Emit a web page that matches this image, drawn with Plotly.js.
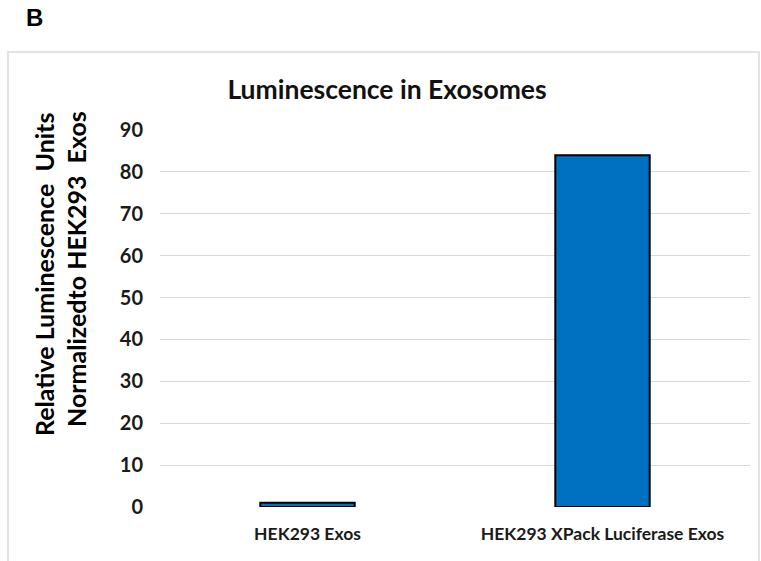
<!DOCTYPE html>
<html>
<head>
<meta charset="utf-8">
<script src="https://cdn.plot.ly/plotly-3.0.1.min.js"></script>
<style>html,body{margin:0;padding:0;background:#fff;}#chart{width:761px;height:561px;}</style>
</head>
<body>
<div id="chart"></div>
<script>
const categories = ["HEK293 Exos", "HEK293 XPack Luciferase Exos"];
const values = [1, 84];
const yTickValues = [0, 10, 20, 30, 40, 50, 60, 70, 80, 90];
const chartTitle = "Luminescence in Exosomes";
const yTitleLine1 = "Relative Luminescence  Units";
const yTitleLine2 = "Normalizedto HEK293  Exos";
const panelLabel = "B";

const FONT = "Lato, 'Open Sans', sans-serif";

const trace = {
  type: "bar",
  x: categories,
  y: values,
  marker: {color: "#0070C0", line: {color: "#000000", width: 2}},
  hoverinfo: "skip"
};

const layout = {
  width: 761, height: 561,
  margin: {l: 160, r: 11, t: 130, b: 54},
  paper_bgcolor: "#ffffff", plot_bgcolor: "#ffffff",
  showlegend: false,
  bargap: 0.68,
  font: {family: FONT, color: "#1a1a1a"},
  title: {
    text: "<b>" + chartTitle + "</b>",
    font: {family: FONT, size: 26.5, color: "#111111"},
    x: 387/761, xref: "container", xanchor: "center",
    y: 1 - 90/561, yref: "container", yanchor: "middle"
  },
  xaxis: {
    type: "category",
    showgrid: false, zeroline: false, showline: false,
    ticks: "",
    tickfont: {family: FONT, size: 17.5, color: "#1a1a1a", weight: "bold"},
    ticklabelstandoff: 14
  },
  yaxis: {
    range: [0, 90],
    tickvals: yTickValues,
    showgrid: true, gridcolor: "#d9d9d9", gridwidth: 1,
    zeroline: false, showline: false,
    ticks: "",
    tickfont: {family: FONT, size: 20, color: "#1a1a1a", weight: "bold"},
    ticklabelstandoff: 16
  },
  shapes: [{
    type: "rect", xref: "paper", yref: "paper",
    x0: (8-160)/590, x1: (759-160)/590,
    y0: (507-570)/377, y1: (507-52)/377,
    line: {color: "#d9d9d9", width: 1.5},
    fillcolor: "rgba(0,0,0,0)", layer: "below"
  }],
  annotations: [
    {
      text: "<b>" + panelLabel + "</b>",
      xref: "paper", yref: "paper",
      x: (34-160)/590, y: (507-18)/377,
      xanchor: "center", yanchor: "middle", showarrow: false,
      font: {family: "Liberation Sans, Arial, sans-serif", size: 24, color: "#000"}
    },
    {
      text: "<b>" + yTitleLine1 + "</b>",
      xref: "paper", yref: "paper",
      x: (44-160)/590, y: (507-275)/377,
      xanchor: "center", yanchor: "middle", showarrow: false, textangle: -90,
      font: {family: FONT, size: 25, color: "#000"}
    },
    {
      text: "<b>" + yTitleLine2 + "</b>",
      xref: "paper", yref: "paper",
      x: (76-160)/590, y: (507-269)/377,
      xanchor: "center", yanchor: "middle", showarrow: false, textangle: -90,
      font: {family: FONT, size: 25, color: "#000"}
    }
  ]
};

Plotly.newPlot("chart", [trace], layout, {displayModeBar: false, staticPlot: true});
</script>
</body>
</html>
